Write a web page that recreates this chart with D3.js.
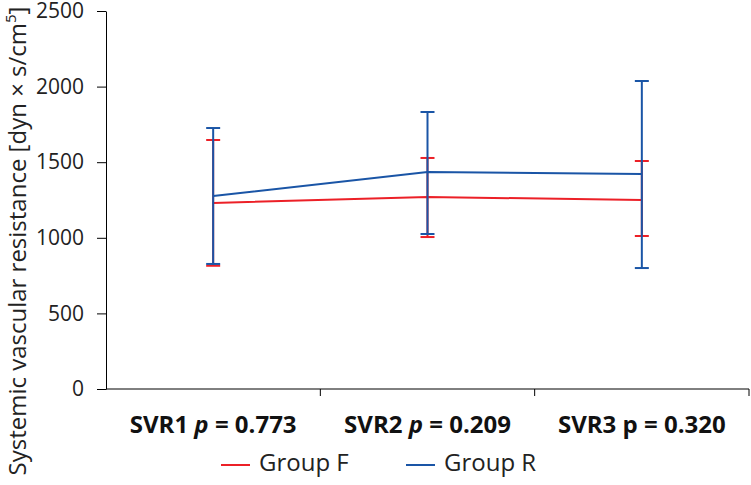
<!DOCTYPE html>
<html>
<head>
<meta charset="utf-8">
<script src="https://cdn.jsdelivr.net/npm/d3@7"></script>
<style>
  body { margin: 0; background: #fff; }
  svg { font-family: "Open Sans", sans-serif; }
</style>
</head>
<body>
<script>
// chart data
const categories = ["SVR1", "SVR2", "SVR3"]
const pValues = ["0.773", "0.209", "0.320"]
const pItalic = [true, true, false]
const groupF = [1230, 1270, 1250]
const groupFLow = [815, 1005, 1012]
const groupFHigh = [1647, 1528, 1508]
const groupR = [1276, 1435, 1422]
const groupRLow = [827, 1025, 800]
const groupRHigh = [1726, 1832, 2037]
const yTicks = [0, 500, 1000, 1500, 2000, 2500]

const W = 751, H = 485
const mLeft = 106, mRight = 749, mTop = 11, mBottom = 389
const red = "#ec2027", blue = "#1a55a6"

const svg = d3.select("body").append("svg")
    .attr("width", W)
    .attr("height", H)

const x = d3.scaleBand().domain(categories).range([mLeft, mRight])
const y = d3.scaleLinear().domain([0, 2500]).range([mBottom, mTop])

// y axis
const yAxis = svg.append("g")
    .attr("transform", "translate(" + mLeft + ",0)")
    .call(d3.axisLeft(y).tickValues(yTicks).tickFormat(d3.format("d"))
        .tickSize(9).tickPadding(13).tickSizeOuter(0))
yAxis.selectAll("text").attr("font-size", 21).attr("fill", "#222").attr("font-family", "Open Sans")
yAxis.select(".domain").attr("stroke", "#000")

// x axis, ticks at band edges
const xAxis = svg.append("g")
    .attr("transform", "translate(0," + mBottom + ")")
xAxis.append("line")
    .attr("x1", mLeft).attr("x2", mRight)
    .attr("stroke", "#000")
xAxis.selectAll(".edge")
    .data(categories.slice(1).concat(["end"]))
    .enter()
    .append("line")
    .attr("x1", (d, i) => i < 2 ? x(d) : mRight)
    .attr("x2", (d, i) => i < 2 ? x(d) : mRight)
    .attr("y1", 0).attr("y2", 7)
    .attr("stroke", "#000")

// category labels
const labels = svg.selectAll(".cat")
    .data(categories)
    .enter()
    .append("text")
    .attr("x", d => x(d) + x.bandwidth() / 2)
    .attr("y", 433)
    .attr("text-anchor", "middle")
    .attr("font-size", 24)
    .attr("font-weight", "bold")
    .attr("fill", "#111")
labels.append("tspan").text(d => d + " ")
labels.append("tspan").text("p").attr("font-style", (d, i) => pItalic[i] ? "italic" : "normal")
labels.append("tspan").text((d, i) => " = " + pValues[i])

// y title
svg.append("text")
    .attr("transform", "translate(26,241) rotate(-90)")
    .attr("text-anchor", "middle")
    .attr("font-size", 24)
    .attr("fill", "#222")
    .html("Systemic vascular resistance [dyn × s/cm<tspan baseline-shift=\"super\" font-size=\"15\">5</tspan>]")

function cx(d) { return x(d) + x.bandwidth() / 2 }

function drawSeries(mean, color) {
    const pts = categories.map((c, i) => [cx(c), y(mean[i])])
    svg.append("path")
        .attr("d", d3.line()(pts))
        .attr("fill", "none")
        .attr("stroke", color)
        .attr("stroke-width", 2)
}

function drawBars(low, high, color) {
    const g = svg.append("g")
    categories.forEach((c, i) => {
        g.append("line")
            .attr("x1", cx(c)).attr("x2", cx(c))
            .attr("y1", y(low[i])).attr("y2", y(high[i]))
            .attr("stroke", color).attr("stroke-width", 2)
        ;[low[i], high[i]].forEach(v => {
            g.append("line")
                .attr("x1", cx(c) - 7).attr("x2", cx(c) + 7)
                .attr("y1", y(v)).attr("y2", y(v))
                .attr("stroke", color).attr("stroke-width", 2)
        })
    })
}

drawSeries(groupF, red)
drawBars(groupFLow, groupFHigh, red)
drawSeries(groupR, blue)
drawBars(groupRLow, groupRHigh, blue)

// legend
const legend = [["Group F", red, 221], ["Group R", blue, 406]]
legend.forEach(l => {
    svg.append("line")
        .attr("x1", l[2]).attr("x2", l[2] + 29)
        .attr("y1", 465).attr("y2", 465)
        .attr("stroke", l[1]).attr("stroke-width", 2)
    svg.append("text")
        .attr("x", l[2] + 38)
        .attr("y", 471)
        .attr("font-size", 24)
        .attr("fill", "#222")
        .text(l[0])
})
</script>
</body>
</html>
